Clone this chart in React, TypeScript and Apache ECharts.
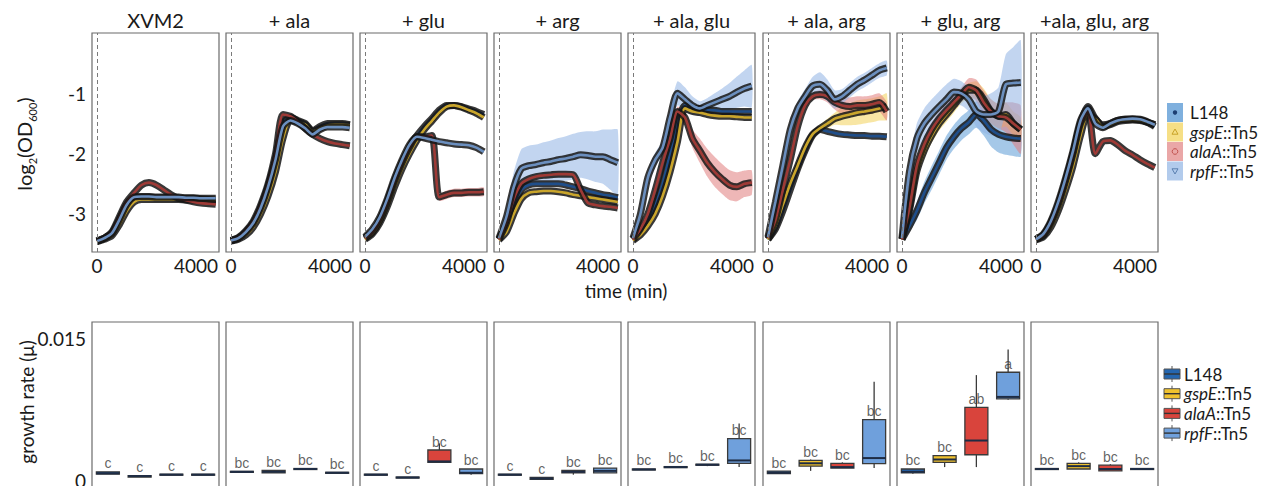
import React, { useEffect, useRef } from 'react';
import * as echarts from 'echarts';

const W = 1269;
const H = 486;
const FONT = 'Lato, "Open Sans", "DejaVu Sans", sans-serif';
const SMALL_FONT = '"Liberation Sans", Arial, sans-serif';

// Media conditions (panel titles) and strains
const MEDIA = ['XVM2', '+ ala', '+ glu', '+ arg', '+ ala, glu', '+ ala, arg', '+ glu, arg', '+ala, glu, arg'];
const STRAINS = ['L148', 'gspE::Tn5', 'alaA::Tn5', 'rpfF::Tn5'];
const STRAIN_ITALIC = ['', 'gspE', 'alaA', 'rpfF'];
const STRAIN_PLAIN = ['L148', '::Tn5', '::Tn5', '::Tn5'];

// Sampling times (min)
const TIME = [0, 300, 600, 900, 1200, 1500, 1800, 2100, 2400, 2700, 3000, 3300, 3600, 3900, 4200, 4500, 4800];
const TIME_TICKS = [0, 4000];
const OD_TICKS = [-3, -2, -1];
const RATE_TICKS = [0, 0.015];

// log2(OD600) mean curves, rows: L148, gspE, alaA, rpfF
const OD_XVM2 = [
  [-3.45, -3.4, -3.32, -3.1, -2.85, -2.72, -2.72, -2.72, -2.73, -2.73, -2.73, -2.74, -2.74, -2.74, -2.75, -2.76, -2.77],
  [-3.46, -3.42, -3.36, -3.18, -2.95, -2.8, -2.76, -2.76, -2.76, -2.76, -2.76, -2.76, -2.77, -2.77, -2.77, -2.78, -2.78],
  [-3.45, -3.4, -3.3, -3.05, -2.8, -2.65, -2.52, -2.48, -2.52, -2.6, -2.68, -2.74, -2.77, -2.8, -2.82, -2.83, -2.84],
  [-3.45, -3.4, -3.32, -3.1, -2.85, -2.72, -2.71, -2.71, -2.72, -2.72, -2.72, -2.72, -2.73, -2.73, -2.74, -2.74, -2.74],
];
const OD_ALA = [
  [-3.44, -3.4, -3.3, -3.15, -2.9, -2.55, -2.1, -1.5, -1.4, -1.45, -1.5, -1.62, -1.55, -1.5, -1.5, -1.5, -1.52],
  [-3.45, -3.42, -3.35, -3.22, -3.0, -2.7, -2.3, -1.75, -1.45, -1.47, -1.52, -1.63, -1.58, -1.53, -1.52, -1.52, -1.53],
  [-3.44, -3.39, -3.28, -3.12, -2.85, -2.5, -2.0, -1.35, -1.38, -1.47, -1.58, -1.68, -1.75, -1.8, -1.83, -1.85, -1.87],
  [-3.44, -3.4, -3.3, -3.15, -2.9, -2.55, -2.1, -1.55, -1.45, -1.5, -1.58, -1.68, -1.6, -1.56, -1.56, -1.56, -1.57],
];
const OD_GLU = [
  [-3.4, -3.3, -3.1, -2.8, -2.45, -2.15, -1.9, -1.7, -1.55, -1.42, -1.28, -1.2, -1.2, -1.22, -1.26, -1.3, -1.35],
  [-3.42, -3.33, -3.15, -2.88, -2.55, -2.25, -2.0, -1.78, -1.6, -1.46, -1.32, -1.22, -1.2, -1.23, -1.28, -1.33, -1.4],
  [-3.4, -3.3, -3.1, -2.8, -2.45, -2.15, -1.9, -1.72, -1.72, -1.7, -2.72, -2.68, -2.65, -2.65, -2.64, -2.64, -2.63],
  [-3.38, -3.25, -3.05, -2.75, -2.4, -2.1, -1.85, -1.72, -1.74, -1.77, -1.8, -1.82, -1.84, -1.85, -1.86, -1.9, -1.97],
];
const OD_ARG = [
  [-3.42, -3.2, -2.85, -2.6, -2.52, -2.5, -2.5, -2.5, -2.5, -2.52, -2.55, -2.58, -2.62, -2.65, -2.68, -2.7, -2.73],
  [-3.43, -3.3, -3.0, -2.75, -2.65, -2.63, -2.62, -2.62, -2.63, -2.65, -2.68, -2.7, -2.72, -2.74, -2.76, -2.78, -2.8],
  [-3.42, -3.15, -2.75, -2.5, -2.42, -2.38, -2.36, -2.35, -2.34, -2.34, -2.35, -2.6, -2.82, -2.85, -2.87, -2.88, -2.9],
  [-3.4, -3.05, -2.55, -2.25, -2.2, -2.18, -2.15, -2.13, -2.1, -2.08, -2.05, -2.02, -2.03, -2.05, -2.05, -2.1, -2.15],
];
const OD_ALA_GLU = [
  [-3.42, -3.3, -3.1, -2.85, -2.5, -2.0, -1.5, -1.2, -1.25, -1.25, -1.28, -1.28, -1.3, -1.3, -1.3, -1.3, -1.3],
  [-3.44, -3.35, -3.2, -3.0, -2.7, -2.3, -1.8, -1.25, -1.3, -1.32, -1.35, -1.37, -1.38, -1.38, -1.39, -1.4, -1.4],
  [-3.42, -3.25, -3.0, -2.6, -2.15, -1.75, -1.3, -1.4, -1.75, -1.95, -2.15, -2.3, -2.42, -2.52, -2.55, -2.5, -2.48],
  [-3.4, -3.0, -2.4, -2.1, -1.9, -1.4, -1.0, -1.1, -1.2, -1.25, -1.2, -1.15, -1.1, -1.05, -0.98, -0.92, -0.88],
];
const OD_ALA_ARG = [
  [-3.42, -3.25, -2.95, -2.6, -2.25, -1.95, -1.7, -1.6, -1.63, -1.66, -1.68, -1.69, -1.7, -1.7, -1.71, -1.71, -1.72],
  [-3.42, -3.2, -2.85, -2.5, -2.2, -1.9, -1.68, -1.58, -1.5, -1.42, -1.38, -1.35, -1.32, -1.3, -1.28, -1.25, -1.22],
  [-3.4, -3.1, -2.6, -2.1, -1.55, -1.2, -1.05, -1.02, -1.05, -1.15, -1.2, -1.22, -1.2, -1.2, -1.18, -1.15, -1.3],
  [-3.38, -2.8, -2.2, -1.6, -1.25, -1.05, -0.88, -0.85, -0.95, -1.1, -1.05, -0.95, -0.85, -0.78, -0.7, -0.62, -0.58],
];
const OD_GLU_ARG = [
  [-3.42, -3.2, -2.95, -2.65, -2.4, -2.15, -1.9, -1.72, -1.58, -1.48, -1.35, -1.45, -1.6, -1.68, -1.72, -1.74, -1.75],
  [-3.42, -2.95, -2.3, -1.95, -1.7, -1.5, -1.35, -1.2, -1.05, -0.95, -0.95, -1.1, -1.3, -1.38, -1.35, -1.5, -1.6],
  [-3.42, -2.9, -2.2, -1.85, -1.6, -1.42, -1.28, -1.15, -1.02, -0.9, -0.95, -1.15, -1.3, -1.38, -1.4, -1.5, -1.6],
  [-3.4, -2.3, -1.75, -1.5, -1.35, -1.22, -1.1, -0.98, -1.0, -1.1, -1.3, -1.35, -1.35, -1.3, -0.85, -0.83, -0.82],
];
const OD_ALA_GLU_ARG = [
  [-3.42, -3.35, -3.15, -2.85, -2.45, -2.0, -1.5, -1.22, -1.42, -1.52, -1.5, -1.45, -1.43, -1.43, -1.44, -1.48, -1.55],
  [-3.43, -3.38, -3.22, -2.95, -2.6, -2.2, -1.7, -1.35, -1.42, -1.55, -1.52, -1.47, -1.45, -1.44, -1.45, -1.48, -1.52],
  [-3.42, -3.35, -3.15, -2.85, -2.45, -2.0, -1.5, -1.3, -2.0, -1.8, -1.78, -1.85, -1.95, -2.02, -2.1, -2.17, -2.23],
  [-3.42, -3.33, -3.12, -2.8, -2.4, -1.95, -1.45, -1.25, -1.5, -1.57, -1.5, -1.45, -1.43, -1.42, -1.43, -1.47, -1.52],
];
const OD_CURVES = [OD_XVM2, OD_ALA, OD_GLU, OD_ARG, OD_ALA_GLU, OD_ALA_ARG, OD_GLU_ARG, OD_ALA_GLU_ARG];

// Spread (± around the mean) for the replicate bands: [panel, strain, spread]
const BANDS: [number, number, number[]][] = [
  [2, 2, [0, 0, 0, 0, 0, 0, 0, 0, 0, 0, 0.06, 0.07, 0.07, 0.07, 0.07, 0.07, 0.07]],
  [3, 3, [0.02, 0.12, 0.25, 0.32, 0.33, 0.33, 0.34, 0.35, 0.36, 0.37, 0.38, 0.38, 0.4, 0.42, 0.45, 0.5, 0.55]],
  [4, 2, [0, 0.02, 0.04, 0.05, 0.06, 0.06, 0.08, 0.1, 0.15, 0.2, 0.23, 0.25, 0.25, 0.25, 0.24, 0.22, 0.2]],
  [4, 3, [0.02, 0.08, 0.12, 0.12, 0.12, 0.15, 0.2, 0.2, 0.15, 0.12, 0.12, 0.15, 0.18, 0.22, 0.26, 0.3, 0.35]],
  [5, 1, [0, 0.03, 0.05, 0.06, 0.06, 0.06, 0.06, 0.06, 0.08, 0.1, 0.15, 0.18, 0.2, 0.2, 0.2, 0.2, 0.22]],
  [5, 2, [0, 0.03, 0.05, 0.06, 0.06, 0.06, 0.06, 0.08, 0.1, 0.12, 0.15, 0.15, 0.15, 0.15, 0.15, 0.15, 0.15]],
  [5, 3, [0.02, 0.1, 0.15, 0.15, 0.12, 0.12, 0.15, 0.2, 0.18, 0.15, 0.12, 0.12, 0.12, 0.12, 0.12, 0.12, 0.12]],
  [6, 0, [0.02, 0.1, 0.15, 0.18, 0.2, 0.2, 0.2, 0.2, 0.2, 0.2, 0.22, 0.25, 0.28, 0.3, 0.3, 0.3, 0.3]],
  [6, 1, [0.02, 0.08, 0.12, 0.12, 0.12, 0.12, 0.12, 0.12, 0.12, 0.12, 0.15, 0.18, 0.2, 0.2, 0.2, 0.2, 0.2]],
  [6, 2, [0.02, 0.08, 0.12, 0.12, 0.12, 0.12, 0.12, 0.12, 0.12, 0.15, 0.18, 0.2, 0.2, 0.2, 0.25, 0.35, 0.4]],
  [6, 3, [0.02, 0.15, 0.25, 0.25, 0.25, 0.25, 0.25, 0.22, 0.2, 0.2, 0.25, 0.3, 0.35, 0.4, 0.5, 0.6, 0.7]],
];

// Growth rate boxplots: [min, q1, median, q3, max] per strain
const GR_XVM2 = [[0.00065, 0.00065, 0.00075, 0.0009, 0.0009], [0.00035, 0.00035, 0.00045, 0.0005, 0.0005], [0.00055, 0.00055, 0.0006, 0.00065, 0.00065], [0.00055, 0.00055, 0.0006, 0.00065, 0.00065]];
const GR_ALA = [[0.00085, 0.00085, 0.0009, 0.00095, 0.00095], [0.0008, 0.0008, 0.0009, 0.00105, 0.00105], [0.00115, 0.00115, 0.0012, 0.00125, 0.00125], [0.00075, 0.00075, 0.0008, 0.00085, 0.00085]];
const GR_GLU = [[0.00055, 0.00055, 0.0006, 0.00065, 0.00065], [0.00025, 0.00025, 0.0003, 0.00035, 0.00035], [0.0019, 0.0019, 0.002, 0.0032, 0.0039], [0.0006, 0.0007, 0.0008, 0.0012, 0.0012]];
const GR_ARG = [[0.00055, 0.00055, 0.0006, 0.00065, 0.00065], [0.0001, 0.0001, 0.0002, 0.0003, 0.0003], [0.0006, 0.0008, 0.0009, 0.00105, 0.00105], [0.0008, 0.0008, 0.001, 0.0013, 0.0013]];
const GR_ALA_GLU = [[0.0011, 0.0011, 0.00115, 0.0012, 0.0012], [0.00135, 0.00135, 0.0014, 0.00145, 0.00145], [0.0015, 0.0016, 0.00165, 0.0017, 0.0017], [0.0014, 0.0018, 0.0021, 0.0044, 0.006]];
const GR_ALA_ARG = [[0.0007, 0.0007, 0.0008, 0.00098, 0.00098], [0.001, 0.0015, 0.0018, 0.0021, 0.0022], [0.0013, 0.0013, 0.0014, 0.0018, 0.0019], [0.0013, 0.00176, 0.00235, 0.0064, 0.0104]];
const GR_GLU_ARG = [[0.0007, 0.0008, 0.0009, 0.0012, 0.0012], [0.0014, 0.0019, 0.0022, 0.0026, 0.0026], [0.0014, 0.0027, 0.0042, 0.0077, 0.0111], [0.0085, 0.0086, 0.0088, 0.0114, 0.0138]];
const GR_ALA_GLU_ARG = [[0.00115, 0.00115, 0.0012, 0.00125, 0.00125], [0.0012, 0.0012, 0.0015, 0.0018, 0.0019], [0.001, 0.001, 0.0012, 0.0016, 0.0017], [0.00115, 0.00115, 0.0012, 0.00125, 0.00125]];
const GROWTH = [GR_XVM2, GR_ALA, GR_GLU, GR_ARG, GR_ALA_GLU, GR_ALA_ARG, GR_GLU_ARG, GR_ALA_GLU_ARG];

// Significance groups
const LETTERS = [
  ['c', 'c', 'c', 'c'],
  ['bc', 'bc', 'bc', 'bc'],
  ['c', 'c', 'bc', 'bc'],
  ['c', 'c', 'bc', 'bc'],
  ['bc', 'bc', 'bc', 'bc'],
  ['bc', 'bc', 'bc', 'bc'],
  ['bc', 'bc', 'ab', 'a'],
  ['bc', 'bc', 'bc', 'bc'],
];

// Styling
const LINE_COLOR = ['#1f4e8a', '#c9a52c', '#9e3a36', '#6b8fbf'];
const BAND_COLOR = ['#5b9bd5', '#f2d15a', '#e07b7b', '#8fb3e3'];
const LEGEND_BAND = ['#7fb0de', '#f6df86', '#eaa7a7', '#b2cbec'];
const LEGEND_MARK = ['#1d3f73', '#c9a227', '#c0504d', '#5a7fb0'];
const BOX_COLOR = ['#2466b0', '#f0c22e', '#d9443c', '#6fa0dc'];

const PANEL_LEFT = [92, 226, 360, 494, 628, 763, 897, 1031];
const PANEL_W = 127;
const TOP_Y = 33;
const TOP_H = 219;
const BOT_Y = 322;
const BOT_H = 165;

function buildOption(): echarts.EChartsOption {
  const grid: any[] = [];
  const xAxis: any[] = [];
  const yAxis: any[] = [];
  const series: any[] = [];
  const graphic: any[] = [];

  const gridBase = {
    show: true,
    borderColor: '#6b6b6b',
    borderWidth: 1.2,
    backgroundColor: 'transparent',
    containLabel: false,
    outerBoundsMode: 'none',
  };

  const tickLabel = {
    formatter: (v: number) => String(v),
    fontSize: 19,
    color: '#1a1a1a',
    fontFamily: FONT,
  };

  // Growth curve panels
  for (let p = 0; p < 8; p++) {
    grid.push({ ...gridBase, left: PANEL_LEFT[p], top: TOP_Y, width: PANEL_W, height: TOP_H });
    xAxis.push({
      gridIndex: p,
      type: 'value',
      min: -200,
      max: 4930,
      axisLine: { show: false },
      axisTick: { show: false },
      splitLine: { show: false },
      axisLabel: { ...tickLabel, customValues: TIME_TICKS, margin: 4 },
    });
    yAxis.push({
      gridIndex: p,
      type: 'value',
      min: -3.63,
      max: 0,
      axisLine: { show: false },
      axisTick: { show: false },
      splitLine: { show: false },
      axisLabel: { ...tickLabel, show: p === 0, customValues: OD_TICKS, margin: 6 },
    });
  }

  // Growth rate panels
  for (let p = 0; p < 8; p++) {
    const g = 8 + p;
    grid.push({ ...gridBase, left: PANEL_LEFT[p], top: BOT_Y, width: PANEL_W, height: BOT_H });
    xAxis.push({
      gridIndex: g,
      type: 'category',
      data: STRAINS,
      axisLine: { show: false },
      axisTick: { show: false },
      axisLabel: { show: false },
      splitLine: { show: false },
    });
    yAxis.push({
      gridIndex: g,
      type: 'value',
      min: -0.0007,
      max: 0.0167,
      axisLine: { show: false },
      axisTick: { show: false },
      splitLine: { show: false },
      axisLabel: { ...tickLabel, show: p === 0, customValues: RATE_TICKS, margin: 6 },
    });
  }

  // Replicate bands
  BANDS.forEach(([p, s, spread]) => {
    const mean = OD_CURVES[p][s];
    series.push({
      type: 'custom',
      coordinateSystem: 'cartesian2d',
      xAxisIndex: p,
      yAxisIndex: p,
      silent: true,
      z: 1,
      data: [[TIME[0], mean[0]]],
      renderItem: (_params: any, api: any) => {
        const upper = TIME.map((t, k) => api.coord([t, mean[k] + spread[k]]));
        const lower = TIME.map((t, k) => api.coord([t, mean[k] - spread[k]])).reverse();
        return {
          type: 'polygon',
          shape: { points: upper.concat(lower), smooth: 0.2 },
          style: { fill: BAND_COLOR[s], opacity: 0.55 },
        };
      },
    });
  });

  // Mean curves: dark outline with coloured core
  for (let p = 0; p < 8; p++) {
    for (let s = 0; s < 4; s++) {
      const data = TIME.map((t, k) => [t, OD_CURVES[p][s][k]]);
      const outer: any = {
        type: 'line',
        xAxisIndex: p,
        yAxisIndex: p,
        data,
        showSymbol: false,
        symbol: 'none',
        smooth: 0.25,
        silent: true,
        z: 3,
        lineStyle: { color: '#151515', width: 7, opacity: 0.85 },
      };
      if (s === 0) {
        outer.markLine = {
          silent: true,
          symbol: 'none',
          label: { show: false },
          lineStyle: { type: [4, 3], color: '#7a7a7a', width: 1 },
          data: [{ xAxis: 0 }],
        };
      }
      series.push(outer);
      series.push({
        type: 'line',
        xAxisIndex: p,
        yAxisIndex: p,
        data,
        showSymbol: false,
        symbol: 'none',
        smooth: 0.25,
        silent: true,
        z: 3,
        lineStyle: { color: LINE_COLOR[s], width: 2.6 },
      });
    }
  }

  // Boxplots (ggplot style, no whisker caps)
  for (let p = 0; p < 8; p++) {
    const g = 8 + p;
    series.push({
      type: 'custom',
      coordinateSystem: 'cartesian2d',
      xAxisIndex: g,
      yAxisIndex: g,
      silent: true,
      z: 3,
      data: GROWTH[p].map((b, s) => [s, ...b]),
      renderItem: (params: any, api: any) => {
        const s = api.value(0);
        const [, yMin] = api.coord([s, api.value(1)]);
        const [, yQ1] = api.coord([s, api.value(2)]);
        const [, yMed] = api.coord([s, api.value(3)]);
        const [, yQ3] = api.coord([s, api.value(4)]);
        const [cx, yMax] = api.coord([s, api.value(5)]);
        const half = 11.5;
        const stroke = '#3a3a3a';
        return {
          type: 'group',
          children: [
            { type: 'line', shape: { x1: cx, y1: yQ3, x2: cx, y2: yMax }, style: { stroke, lineWidth: 1.3 } },
            { type: 'line', shape: { x1: cx, y1: yQ1, x2: cx, y2: yMin }, style: { stroke, lineWidth: 1.3 } },
            {
              type: 'rect',
              shape: { x: cx - half, y: yQ3, width: half * 2, height: Math.max(yQ1 - yQ3, 1) },
              style: { fill: BOX_COLOR[params.dataIndex], stroke, lineWidth: 1.3 },
            },
            { type: 'line', shape: { x1: cx - half, y1: yMed, x2: cx + half, y2: yMed }, style: { stroke: '#1e2c44', lineWidth: 2 } },
          ],
        };
      },
    });
    series.push({
      type: 'scatter',
      xAxisIndex: g,
      yAxisIndex: g,
      silent: true,
      z: 4,
      symbolSize: 1,
      itemStyle: { color: 'rgba(0,0,0,0)' },
      data: GROWTH[p].map((b, s) => [s, b[3]]),
      label: {
        show: true,
        position: 'top',
        distance: 1,
        fontSize: 14,
        color: '#3c3c3c',
        fontFamily: SMALL_FONT,
        formatter: (prm: any) => LETTERS[p][prm.dataIndex],
      },
    });
  }

  // Panel titles
  MEDIA.forEach((m, p) => {
    graphic.push({
      type: 'text',
      x: PANEL_LEFT[p] + PANEL_W / 2,
      y: 20,
      style: { text: m, fontSize: 20, fontFamily: FONT, fill: '#1a1a1a', align: 'center', verticalAlign: 'middle' },
    });
  });

  // Axis titles
  graphic.push({
    type: 'text',
    x: 626,
    y: 290,
    style: { text: 'time (min)', fontSize: 19, fontFamily: FONT, fill: '#1a1a1a', align: 'center', verticalAlign: 'middle' },
  });
  graphic.push({
    type: 'text',
    x: 24,
    y: 144,
    rotation: Math.PI / 2,
    style: {
      text: '{a|log}{s|2}{a|(OD}{s|600}{a|)}',
      align: 'center',
      verticalAlign: 'middle',
      rich: {
        a: { fontSize: 20, fontFamily: FONT, fill: '#1a1a1a', lineHeight: 27, verticalAlign: 'middle' },
        s: { fontSize: 11, fontFamily: FONT, fill: '#1a1a1a', lineHeight: 27, verticalAlign: 'bottom' },
      },
    },
  });
  graphic.push({
    type: 'text',
    x: 26,
    y: 402,
    rotation: Math.PI / 2,
    style: { text: 'growth rate (μ)', fontSize: 19, fontFamily: FONT, fill: '#1a1a1a', align: 'center', verticalAlign: 'middle' },
  });

  const legendRich = {
    i: { fontSize: 17, fontFamily: FONT, fontStyle: 'italic', fill: '#1a1a1a' },
    n: { fontSize: 17, fontFamily: FONT, fill: '#1a1a1a' },
  };
  const legendText = (s: number) =>
    STRAIN_ITALIC[s] ? `{i|${STRAIN_ITALIC[s]}}{n|${STRAIN_PLAIN[s]}}` : `{n|${STRAIN_PLAIN[s]}}`;

  // Legend for the growth curves
  for (let s = 0; s < 4; s++) {
    const top = 103 + s * 19.5;
    const cx = 1175;
    const cy = top + 9.5;
    graphic.push({ type: 'rect', shape: { x: 1167, y: top, width: 16, height: 19 }, style: { fill: LEGEND_BAND[s] } });
    const mk = LEGEND_MARK[s];
    if (s === 0) {
      graphic.push({ type: 'circle', shape: { cx, cy, r: 2.2 }, style: { fill: mk } });
    } else if (s === 1) {
      graphic.push({ type: 'polygon', shape: { points: [[cx, cy - 3], [cx + 3, cy + 2.2], [cx - 3, cy + 2.2]] }, style: { fill: 'none', stroke: mk, lineWidth: 1 } });
    } else if (s === 2) {
      graphic.push({ type: 'circle', shape: { cx, cy, r: 2.8 }, style: { fill: 'none', stroke: mk, lineWidth: 1 } });
    } else {
      graphic.push({ type: 'polygon', shape: { points: [[cx - 3, cy - 2.2], [cx + 3, cy - 2.2], [cx, cy + 3]] }, style: { fill: 'none', stroke: mk, lineWidth: 1 } });
    }
    graphic.push({
      type: 'text',
      x: 1190,
      y: cy,
      style: { text: legendText(s), rich: legendRich, verticalAlign: 'middle', align: 'left' },
    });
  }

  // Legend for the growth rates
  for (let s = 0; s < 4; s++) {
    const cy = 374 + s * 19.7;
    const cx = 1172;
    graphic.push({ type: 'line', shape: { x1: cx, y1: cy - 8, x2: cx, y2: cy + 8 }, style: { stroke: '#555', lineWidth: 1 } });
    graphic.push({ type: 'rect', shape: { x: cx - 8, y: cy - 5, width: 16, height: 10 }, style: { fill: BOX_COLOR[s], stroke: '#555', lineWidth: 1 } });
    graphic.push({ type: 'line', shape: { x1: cx - 8, y1: cy, x2: cx + 8, y2: cy }, style: { stroke: '#333', lineWidth: 1.4 } });
    graphic.push({
      type: 'text',
      x: 1184,
      y: cy,
      style: { text: legendText(s), rich: legendRich, verticalAlign: 'middle', align: 'left' },
    });
  }

  return {
    animation: false,
    backgroundColor: '#ffffff',
    textStyle: { fontFamily: FONT },
    grid,
    xAxis,
    yAxis,
    series,
    graphic,
  } as any;
}

export default function App() {
  const ref = useRef<HTMLDivElement>(null);
  useEffect(() => {
    if (!ref.current) return;
    const chart = echarts.init(ref.current, null, { renderer: 'svg' });
    chart.setOption(buildOption());
    return () => chart.dispose();
  }, []);
  return <div ref={ref} style={{ position: 'absolute', left: 0, top: 0, width: W, height: H }} />;
}
